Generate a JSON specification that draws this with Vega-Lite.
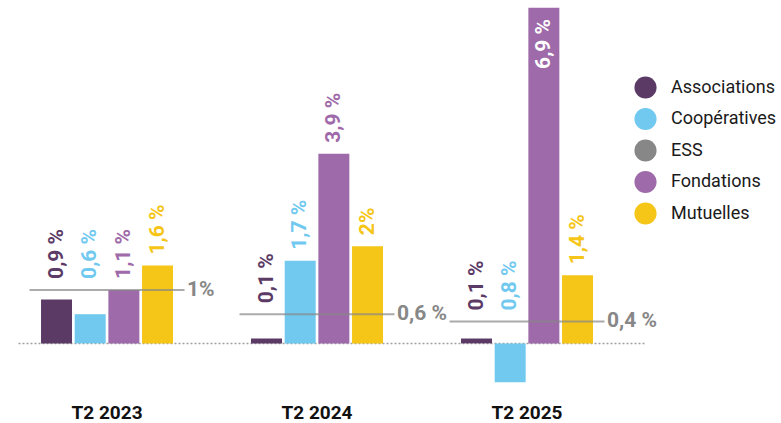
{
  "$schema": "https://vega.github.io/schema/vega-lite/v6.json",
  "width": 627,
  "height": 389,
  "autosize": {"type": "none"},
  "padding": {"left": 18, "top": 3, "right": 136, "bottom": 31},
  "background": "white",
  "config": {
    "view": {"stroke": null},
    "font": "Roboto"
  },
  "data": {
    "values": [
      {"period": "T2 2023", "series": "Associations", "value": 0.9, "ess": 1.1, "label": "0,9 %"},
      {"period": "T2 2023", "series": "Coopératives", "value": 0.6, "ess": 1.1, "label": "0,6 %"},
      {"period": "T2 2023", "series": "Fondations", "value": 1.1, "ess": 1.1, "label": "1,1 %"},
      {"period": "T2 2023", "series": "Mutuelles", "value": 1.6, "ess": 1.1, "label": "1,6 %"},
      {"period": "T2 2023", "series": "ESS", "value": 1.1, "ess": 1.1, "label": "1%"},
      {"period": "T2 2024", "series": "Associations", "value": 0.1, "ess": 0.6, "label": "0,1 %"},
      {"period": "T2 2024", "series": "Coopératives", "value": 1.7, "ess": 0.6, "label": "1,7 %"},
      {"period": "T2 2024", "series": "Fondations", "value": 3.9, "ess": 0.6, "label": "3,9 %"},
      {"period": "T2 2024", "series": "Mutuelles", "value": 2.0, "ess": 0.6, "label": "2%"},
      {"period": "T2 2024", "series": "ESS", "value": 0.6, "ess": 0.6, "label": "0,6 %"},
      {"period": "T2 2025", "series": "Associations", "value": 0.1, "ess": 0.45, "label": "0,1 %"},
      {"period": "T2 2025", "series": "Coopératives", "value": -0.8, "ess": 0.45, "label": "0,8 %"},
      {"period": "T2 2025", "series": "Fondations", "value": 6.9, "ess": 0.45, "label": "6,9 %"},
      {"period": "T2 2025", "series": "Mutuelles", "value": 1.4, "ess": 0.45, "label": "1,4 %"},
      {"period": "T2 2025", "series": "ESS", "value": 0.45, "ess": 0.45, "label": "0,4 %"}
    ]
  },
  "layer": [
    {
      "transform": [{"filter": "datum.series !== 'ESS'"}],
      "mark": {"type": "bar"},
      "encoding": {
        "x": {"field": "period", "type": "nominal", "sort": ["T2 2023", "T2 2024", "T2 2025"],
          "scale": {"paddingInner": 0.3714, "paddingOuter": 0.1786, "align": 0.307},
          "axis": {"title": null, "domain": false, "ticks": false, "tickSize": 0, "labelPadding": 11, "labelAngle": 0,
            "labelFontSize": 19, "labelFontWeight": "bold", "labelColor": "#111111", "labelFont": "Roboto"}},
        "xOffset": {"field": "series", "type": "nominal", "sort": ["Associations", "Coopératives", "Fondations", "Mutuelles"],
          "scale": {"paddingInner": 0.08, "paddingOuter": 0}},
        "y": {"field": "value", "type": "quantitative", "scale": {"domain": [-1, 7], "nice": false},
          "axis": {"title": null, "values": [0], "grid": true, "gridDash": [2, 2], "gridWidth": 1.5, "gridColor": "#a0a0a0",
            "labels": false, "ticks": false, "domain": false}},
        "color": {"field": "series", "type": "nominal",
          "scale": {"domain": ["Associations", "Coopératives", "ESS", "Fondations", "Mutuelles"],
            "range": ["#5b3a66", "#71c9f0", "#878787", "#9e6aa9", "#f5c518"]},
          "legend": {"title": null, "orient": "none", "legendX": 616, "legendY": 73,
            "symbolType": "circle", "symbolSize": 490, "symbolStrokeWidth": 0,
            "labelFontSize": 18, "labelColor": "#1a1a1a", "labelOffset": 14, "rowPadding": 8.5, "labelFont": "Roboto"}}
      }
    },
    {
      "transform": [{"filter": "datum.series === 'ESS'"}],
      "mark": {"type": "tick", "thickness": 2, "size": 155, "color": "#878787"},
      "encoding": {
        "x": {"field": "period", "type": "nominal", "sort": ["T2 2023", "T2 2024", "T2 2025"]},
        "y": {"field": "value", "type": "quantitative"}
      }
    },
    {
      "transform": [{"filter": "datum.series === 'ESS'"}],
      "mark": {"type": "text", "align": "left", "baseline": "middle", "dx": 80, "fontSize": 21, "fontWeight": "bold", "color": "#878787"},
      "encoding": {
        "x": {"field": "period", "type": "nominal", "sort": ["T2 2023", "T2 2024", "T2 2025"]},
        "y": {"field": "value", "type": "quantitative"},
        "text": {"field": "label"}
      }
    },
    {
      "transform": [{"filter": "datum.series !== 'ESS' && datum.value < 5"}, {"calculate": "max(datum.value, datum.ess)", "as": "base"}],
      "mark": {"type": "text", "angle": 270, "align": "left", "baseline": "middle", "dx": 11, "fontSize": 21, "fontWeight": "bold"},
      "encoding": {
        "x": {"field": "period", "type": "nominal", "sort": ["T2 2023", "T2 2024", "T2 2025"]},
        "xOffset": {"field": "series", "type": "nominal", "sort": ["Associations", "Coopératives", "Fondations", "Mutuelles"]},
        "y": {"field": "base", "type": "quantitative"},
        "text": {"field": "label"},
        "color": {"field": "series", "type": "nominal", "legend": null}
      }
    },
    {
      "transform": [{"filter": "datum.series !== 'ESS' && datum.value >= 5"}],
      "mark": {"type": "text", "angle": 270, "align": "right", "baseline": "middle", "dx": -11, "fontSize": 21, "fontWeight": "bold", "color": "white"},
      "encoding": {
        "x": {"field": "period", "type": "nominal", "sort": ["T2 2023", "T2 2024", "T2 2025"]},
        "xOffset": {"field": "series", "type": "nominal", "sort": ["Associations", "Coopératives", "Fondations", "Mutuelles"]},
        "y": {"field": "value", "type": "quantitative"},
        "text": {"field": "label"}
      }
    }
  ]
}
